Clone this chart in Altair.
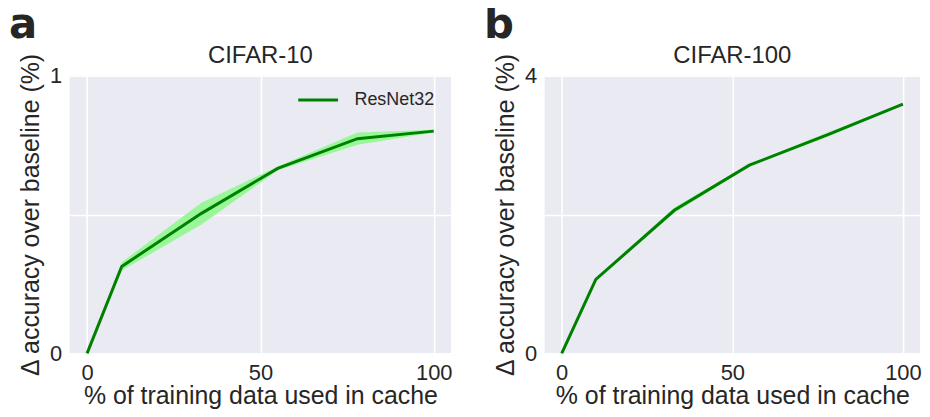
import altair as alt
import pandas as pd

# ---- data ----
x_pct = [0, 10, 33, 55, 78, 100]
model_name = "ResNet32"

c10_mean = [0.0, 0.313, 0.504, 0.666, 0.773, 0.800]
c10_lo = [0.0, 0.298, 0.464, 0.659, 0.751, 0.795]
c10_hi = [0.0, 0.328, 0.542, 0.673, 0.795, 0.805]

c100_mean = [0.0, 1.065, 2.06, 2.71, 3.15, 3.59]
c100_lo = [0.0, 1.045, 2.02, 2.69, 3.12, 3.575]
c100_hi = [0.0, 1.085, 2.10, 2.73, 3.18, 3.605]

titles = ["CIFAR-10", "CIFAR-100"]
letters = ["a", "b"]
y_max = [1, 4]

FONT = "Liberation Sans"
TXT = "#262626"
LINE = "#008000"
BAND = "#99f799"
H = 279


def panel(title, letter, mean, lo, hi, ymax, width, legend_x):
    df = pd.DataFrame({"x": x_pct, "y": mean, "lo": lo, "hi": hi,
                       "model": [model_name] * len(x_pct)})
    xs = alt.Scale(domain=[-5, 105], nice=False, zero=False)
    ys = alt.Scale(domain=[0, ymax], nice=False)
    mid = ymax / 2
    xaxis = alt.Axis(values=[0, 50, 100], title="% of training data used in cache",
                     labelPadding=9, titleY=50, titleBaseline="alphabetic")
    yaxis = alt.Axis(values=[0, mid, ymax],
                     labelExpr=f"datum.value == {mid} ? '' : toString(datum.value)",
                     title="Δ accuracy over baseline (%)",
                     labelPadding=8, titleX=-31, titleY=H / 2,
                     titleBaseline="alphabetic", titleAngle=270)
    base = alt.Chart(df)
    band = base.mark_area(color=BAND, opacity=1).encode(
        x=alt.X("x:Q", scale=xs, axis=xaxis),
        y=alt.Y("lo:Q", scale=ys, axis=yaxis),
        y2="hi:Q",
    )
    line = base.mark_line(strokeWidth=3).encode(
        x=alt.X("x:Q", scale=xs, axis=xaxis),
        y=alt.Y("y:Q", scale=ys, axis=yaxis),
        color=alt.Color("model:N", scale=alt.Scale(range=[LINE]),
                        legend=alt.Legend(title=None, orient="none",
                                          legendX=legend_x, legendY=3,
                                          symbolType="stroke", symbolSize=1600,
                                          symbolStrokeWidth=3, labelFontSize=18,
                                          labelFont=FONT, labelColor=TXT,
                                          labelOffset=15, padding=0)),
    )
    ann = pd.DataFrame({"letter": [letter], "title": [title]})
    lab = alt.Chart(ann).mark_text(
        font="DejaVu Sans", fontWeight="bold", fontSize=42, color=TXT,
        align="left", baseline="alphabetic",
    ).encode(text="letter:N", x=alt.value(-61), y=alt.value(-38))
    ttl = alt.Chart(ann).mark_text(
        font=FONT, fontSize=24, color=TXT, align="center", baseline="alphabetic",
    ).encode(text="title:N", x=alt.value(width / 2), y=alt.value(-13))
    return alt.layer(band, line, lab, ttl).properties(width=width, height=H)


pa = panel(titles[0], letters[0], c10_mean, c10_lo, c10_hi, y_max[0], 383, 228)
pb = panel(titles[1], letters[1], c100_mean, c100_lo, c100_hi, y_max[1], 377, 17)

chart = alt.hconcat(pa, pb, spacing=32).properties(
    padding={"left": 1, "top": -5, "right": 0, "bottom": 0}
).configure_view(fill="#EAEAF2", stroke=None).configure_axis(
    grid=True, gridColor="white", gridWidth=1.6, domain=False, ticks=False,
    labelFont=FONT, labelFontSize=22, labelColor=TXT,
    titleFont=FONT, titleFontSize=25, titleColor=TXT, titleFontWeight="normal",
)

chart.save("out.html", embed_options={"renderer": "svg", "actions": False})
